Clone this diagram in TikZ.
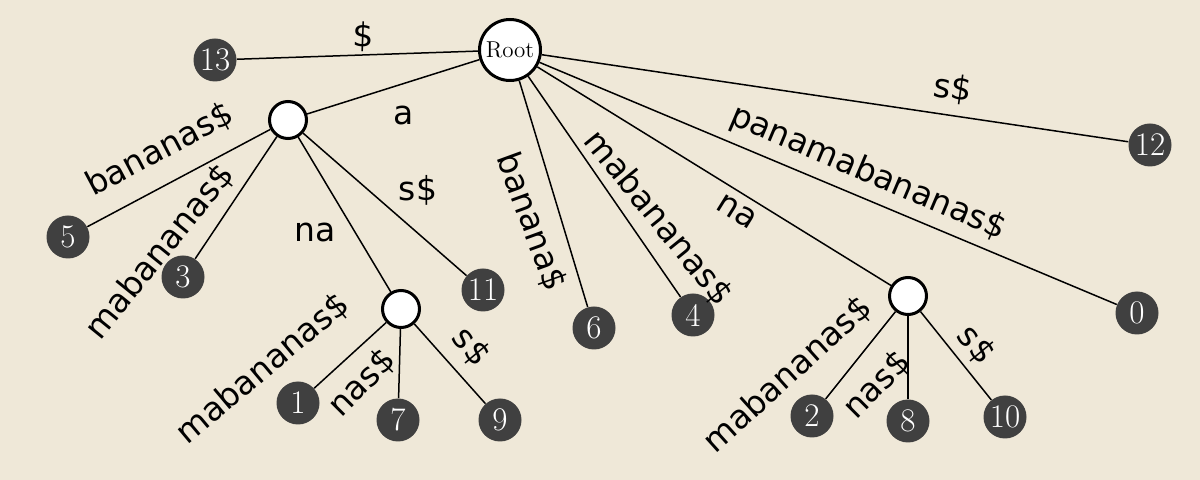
\documentclass[tikz,border=0pt]{standalone}
\usepackage{fontspec}
\newfontfamily\lblfont{DejaVu Sans}
\definecolor{bgcol}{RGB}{239,232,216}
\definecolor{leafgray}{RGB}{64,64,64}
\begin{document}
\begin{tikzpicture}[x=0.5pt,y=-0.5pt,
  leaf/.style={circle,fill=leafgray,text=white,minimum size=21.5pt,inner sep=0pt,font=\fontsize{16.5}{16.5}\selectfont},
  inner/.style={circle,draw=black,line width=1.5pt,fill=white,minimum size=18.5pt,inner sep=0pt},
  rootnode/.style={circle,draw=black,line width=1.5pt,fill=white,minimum size=30.5pt,inner sep=0pt,font=\fontsize{11.5}{11.5}\selectfont},
  edge/.style={line width=0.75pt,draw=black},
  lbl/.style={font=\lblfont\fontsize{16.5}{16.5}\selectfont,inner sep=0pt}]
\fill[bgcol] (0,0) rectangle (1200,480);
\useasboundingbox (0,0) rectangle (1200,480);
% nodes
\node[rootnode] (root) at (510,50) {Root};
\node[leaf] (n13) at (215,60) {13};
\node[inner] (A) at (288,120) {};
\node[leaf] (n5) at (68,237) {5};
\node[leaf] (n3) at (183,277) {3};
\node[inner] (B) at (401,309) {};
\node[leaf] (n11) at (483,290) {11};
\node[leaf] (n1) at (298,403) {1};
\node[leaf] (n7) at (398,420) {7};
\node[leaf] (n9) at (500,420) {9};
\node[leaf] (n6) at (594,328) {6};
\node[leaf] (n4) at (693,315) {4};
\node[inner] (C) at (908,296) {};
\node[leaf] (n0) at (1137,313) {0};
\node[leaf] (n2) at (812,416) {2};
\node[leaf] (n8) at (908,421) {8};
\node[leaf] (n10) at (1005,417) {10};
\node[leaf] (n12) at (1150,145) {12};
% edges
\draw[edge] (root) -- (n13);
\draw[edge] (root) -- (A);
\draw[edge] (A) -- (n5);
\draw[edge] (A) -- (n3);
\draw[edge] (A) -- (B);
\draw[edge] (A) -- (n11);
\draw[edge] (B) -- (n1);
\draw[edge] (B) -- (n7);
\draw[edge] (B) -- (n9);
\draw[edge] (root) -- (n6);
\draw[edge] (root) -- (n4);
\draw[edge] (root) -- (C);
\draw[edge] (C) -- (n2);
\draw[edge] (C) -- (n8);
\draw[edge] (C) -- (n10);
\draw[edge] (root) -- (n0);
\draw[edge] (root) -- (n12);
% labels
\node[lbl,rotate=-2] (l13) at (363,37) {\$};
\node[lbl] (lA) at (404,115) {a};
\node[lbl,rotate=28] (l5) at (160,150) {bananas\$};
\node[lbl,rotate=51] (l3) at (160,252) {mabananas\$};
\node[lbl] (lB) at (315,232) {na};
\node[lbl] (l11) at (418,190) {s\$};
\node[lbl,rotate=40] (l1) at (263,369) {mabananas\$};
\node[lbl,rotate=45] (l7) at (362,383) {nas\$};
\node[lbl,rotate=-50] (l9) at (471,347) {s\$};
\node[lbl,rotate=-70] (l6) at (531,222) {banana\$};
\node[lbl,rotate=-51] (l4) at (658,218) {mabananas\$};
\node[lbl,rotate=-32] (lC) at (737,212) {na};
\node[lbl,rotate=-23] (l0) at (868,173) {panamabananas\$};
\node[lbl,rotate=-8] (l12) at (953,89) {s\$};
\node[lbl,rotate=42] (l2) at (788,375) {mabananas\$};
\node[lbl,rotate=45] (l8) at (877,385) {nas\$};
\node[lbl,rotate=-50] (l10) at (976,345) {s\$};
\end{tikzpicture}
\end{document}
